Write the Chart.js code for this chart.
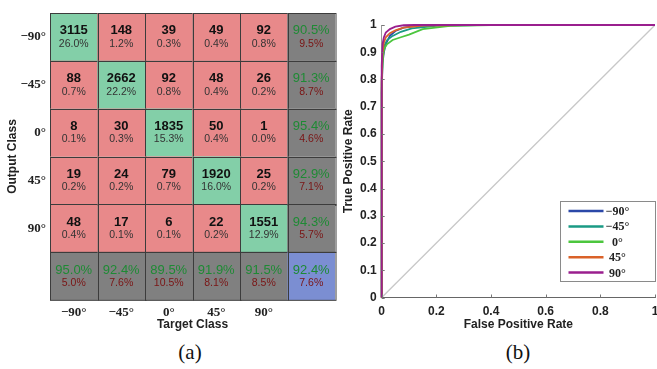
<!DOCTYPE html>
<html>
<head>
<meta charset="utf-8">
<script src="https://cdn.jsdelivr.net/npm/chart.js@4.4.0/dist/chart.umd.min.js"></script>
<style>
    body { margin: 0; background: #fff; width: 657px; height: 369px; position: relative; overflow: hidden; }
    #cmBox { position: absolute; left: 0; top: 0; width: 340px; height: 340px; }
    #rocBox { position: absolute; left: 340px; top: 0; width: 317px; height: 340px; }
    .cap { position: absolute; top: 340px; width: 60px; text-align: center; font-family: "Liberation Serif", serif; font-size: 21px; color: #111; }
</style>
</head>
<body>
<div id="cmBox"><canvas id="cmChart" width="340" height="340"></canvas></div>
<div id="rocBox"><canvas id="rocChart" width="317" height="340"></canvas></div>
<div class="cap" style="left:160px">(a)</div>
<div class="cap" style="left:488px">(b)</div>
<script>
// Confusion matrix data (rows = output class, cols = target class)
const classLabels = ['−90°', '−45°', '0°', '45°', '90°'];
const counts = [
    [3115, 148, 39, 49, 92],
    [88, 2662, 92, 48, 26],
    [8, 30, 1835, 50, 1],
    [19, 24, 79, 1920, 25],
    [48, 17, 6, 22, 1551]
];
const cellPct = [
    ['26.0%', '1.2%', '0.3%', '0.4%', '0.8%'],
    ['0.7%', '22.2%', '0.8%', '0.4%', '0.2%'],
    ['0.1%', '0.3%', '15.3%', '0.4%', '0.0%'],
    ['0.2%', '0.2%', '0.7%', '16.0%', '0.2%'],
    ['0.4%', '0.1%', '0.1%', '0.2%', '12.9%']
];
const rowCorrect = ['90.5%', '91.3%', '95.4%', '92.9%', '94.3%'];
const rowWrong = ['9.5%', '8.7%', '4.6%', '7.1%', '5.7%'];
const colCorrect = ['95.0%', '92.4%', '89.5%', '91.9%', '91.5%'];
const colWrong = ['5.0%', '7.6%', '10.5%', '8.1%', '8.5%'];
const overallPct = ['92.4%', '7.6%'];

// ROC curves
const rocLabels = ['−90°', '−45°', '0°', '45°', '90°'];
const rocColors = ['#2B48A8', '#1A9A84', '#4CC63E', '#DA6229', '#9A1F8E'];
const fprM90 = [0, 0, 0.003, 0.008, 0.015, 0.03, 0.05, 0.08, 0.12, 0.2, 1];
const tprM90 = [0, 0.75, 0.86, 0.9, 0.93, 0.96, 0.978, 0.99, 0.996, 1, 1];
const fprM45 = [0, 0, 0.004, 0.01, 0.02, 0.04, 0.07, 0.11, 0.2, 0.35, 1];
const tprM45 = [0, 0.8, 0.89, 0.925, 0.945, 0.96, 0.975, 0.988, 0.997, 1, 1];
const fprZero = [0, 0, 0.004, 0.01, 0.02, 0.04, 0.07, 0.1, 0.15, 0.25, 0.4, 1];
const tprZero = [0, 0.78, 0.88, 0.915, 0.93, 0.945, 0.955, 0.965, 0.985, 0.997, 1, 1];
const fprP45 = [0, 0, 0.003, 0.008, 0.015, 0.03, 0.05, 0.08, 0.15, 0.3, 1];
const tprP45 = [0, 0.8, 0.9, 0.935, 0.955, 0.97, 0.98, 0.99, 0.998, 1, 1];
const fprP90 = [0, 0, 0.003, 0.008, 0.015, 0.03, 0.05, 0.08, 0.12, 1];
const tprP90 = [0, 0.85, 0.93, 0.955, 0.972, 0.985, 0.994, 0.999, 1, 1];
const diagX = [0, 1];
const diagY = [0, 1];

const GREEN_CELL = '#83CFA8';
const RED_CELL = '#E8898A';
const GRAY_CELL = '#808080';
const BLUE_CELL = '#7B8ED2';
const GREEN_TEXT = '#1E8A34';
const RED_TEXT = '#7A1414';

function zip(xs, ys) {
    return xs.map((x, i) => ({ x: x, y: ys[i] }));
}

// keep the plot box where it is, no room reserved for edge labels
function noEdgePad(s) {
    s.paddingLeft = 0;
    s.paddingRight = 0;
    s.paddingTop = 0;
    s.paddingBottom = 0;
}

// draws the matrix cells through the chart scales
const matrixPlugin = {
    id: 'matrixCells',
    beforeDatasetsDraw(chart) {
        const ctx = chart.ctx;
        const xs = chart.scales.x;
        const ys = chart.scales.y;
        const n = classLabels.length;
        ctx.save();
        for (let i = 0; i <= n; i++) {
            for (let j = 0; j <= n; j++) {
                const x0 = xs.getPixelForValue(j), x1 = xs.getPixelForValue(j + 1);
                const y0 = ys.getPixelForValue(i), y1 = ys.getPixelForValue(i + 1);
                const cx = (x0 + x1) / 2, cy = (y0 + y1) / 2;
                let fill, top, bottom, summary = false;
                if (i < n && j < n) {
                    fill = i === j ? GREEN_CELL : RED_CELL;
                    top = String(counts[i][j]);
                    bottom = cellPct[i][j];
                } else if (i < n) {
                    fill = GRAY_CELL; top = rowCorrect[i]; bottom = rowWrong[i]; summary = true;
                } else if (j < n) {
                    fill = GRAY_CELL; top = colCorrect[j]; bottom = colWrong[j]; summary = true;
                } else {
                    fill = BLUE_CELL; top = overallPct[0]; bottom = overallPct[1]; summary = true;
                }
                ctx.fillStyle = fill;
                ctx.fillRect(x0, y0, x1 - x0, y1 - y0);
                ctx.strokeStyle = '#3c3c3c';
                ctx.lineWidth = 1;
                ctx.strokeRect(Math.round(x0) + 0.5, Math.round(y0) + 0.5, x1 - x0, y1 - y0);

                ctx.textAlign = 'center';
                ctx.textBaseline = 'middle';
                if (summary) {
                    ctx.font = '13px "Liberation Sans", Arial';
                    ctx.fillStyle = GREEN_TEXT;
                    ctx.fillText(top, cx, cy - 6);
                    ctx.font = '10.5px "Liberation Sans", Arial';
                    ctx.fillStyle = RED_TEXT;
                    ctx.fillText(bottom, cx, cy + 7);
                } else {
                    ctx.font = 'bold 13px "Liberation Sans", Arial';
                    ctx.fillStyle = '#111';
                    ctx.fillText(top, cx, cy - 6);
                    ctx.font = '10.5px "Liberation Sans", Arial';
                    ctx.fillStyle = '#333';
                    ctx.fillText(bottom, cx, cy + 7);
                }
            }
        }
        ctx.restore();
    }
};

// matrix points: one per cell centre
const cellPoints = [];
counts.forEach((row, i) => row.forEach((v, j) => cellPoints.push({ x: j + 0.5, y: i + 0.5, v: v })));

new Chart(document.getElementById('cmChart'), {
    type: 'scatter',
    data: {
        datasets: [{ data: cellPoints, pointRadius: 0, pointHoverRadius: 0 }]
    },
    options: {
        responsive: false,
        animation: false,
        devicePixelRatio: 1,
        layout: { padding: { left: 0, right: 5, top: 13, bottom: 4 } },
        plugins: { legend: { display: false }, tooltip: { enabled: false } },
        scales: {
            x: {
                type: 'linear', min: 0, max: 6,
                grid: { display: false, drawTicks: false },
                border: { display: false },
                afterBuildTicks: s => { s.ticks = classLabels.map((l, k) => ({ value: k + 0.5 })); },
                afterFit: s => { s.height = 36; noEdgePad(s); },
                ticks: {
                    padding: 5,
                    autoSkip: false,
                    maxRotation: 0,
                    color: '#222',
                    font: { family: '"Liberation Serif", serif', size: 13, weight: 'bold' },
                    callback: v => classLabels[Math.floor(v)]
                },
                title: {
                    display: true, text: 'Target Class', color: '#222',
                    padding: { top: 0, bottom: 4 },
                    font: { family: '"Liberation Sans", Arial', size: 12, weight: 'bold' }
                }
            },
            y: {
                type: 'linear', min: 0, max: 6, reverse: true,
                grid: { display: false, drawTicks: false },
                border: { display: false },
                afterBuildTicks: s => { s.ticks = classLabels.map((l, k) => ({ value: k + 0.5 })); },
                afterFit: s => { s.width = 50; noEdgePad(s); },
                ticks: {
                    padding: 4,
                    autoSkip: false,
                    color: '#222',
                    font: { family: '"Liberation Serif", serif', size: 13, weight: 'bold' },
                    callback: v => classLabels[Math.floor(v)]
                },
                title: {
                    display: true, text: 'Output Class', color: '#222',
                    padding: { top: 5, bottom: 0 },
                    font: { family: '"Liberation Sans", Arial', size: 12, weight: 'bold' }
                }
            }
        }
    },
    plugins: [matrixPlugin]
});

// ROC legend box + inward tick marks
const rocExtras = {
    id: 'rocExtras',
    afterDraw(chart) {
        const ctx = chart.ctx;
        const area = chart.chartArea;
        const xs = chart.scales.x, ys = chart.scales.y;
        ctx.save();
        // inward ticks
        ctx.strokeStyle = '#777';
        ctx.lineWidth = 1;
        xs.ticks.forEach(t => {
            const px = Math.round(xs.getPixelForValue(t.value)) + 0.5;
            ctx.beginPath(); ctx.moveTo(px, area.bottom); ctx.lineTo(px, area.bottom - 3); ctx.stroke();
        });
        ys.ticks.forEach(t => {
            const py = Math.round(ys.getPixelForValue(t.value)) + 0.5;
            ctx.beginPath(); ctx.moveTo(area.left, py); ctx.lineTo(area.left + 3, py); ctx.stroke();
        });
        // legend
        const items = chart.data.datasets.filter(d => d.label);
        const boxW = 95, boxH = 80;
        const bx = Math.round(area.right - boxW) + 0.5;
        const by = Math.round(area.bottom - 16.5 - boxH) + 0.5;
        ctx.fillStyle = '#fff';
        ctx.fillRect(bx, by, boxW, boxH);
        ctx.strokeStyle = '#8a8a8a';
        ctx.strokeRect(bx, by, boxW, boxH);
        ctx.font = 'bold 12px "Liberation Serif", serif';
        ctx.textAlign = 'center';
        ctx.textBaseline = 'middle';
        items.forEach((d, k) => {
            const y = by + 9.5 + k * 15.4;
            ctx.strokeStyle = d.borderColor;
            ctx.lineWidth = 2.5;
            ctx.beginPath(); ctx.moveTo(bx + 8, y); ctx.lineTo(bx + 43, y); ctx.stroke();
            ctx.fillStyle = '#222';
            ctx.fillText(d.label, bx + 57, y + 1);
        });
        ctx.restore();
    }
};

const rocSeries = [
    [fprM90, tprM90], [fprM45, tprM45], [fprZero, tprZero], [fprP45, tprP45], [fprP90, tprP90]
];

const rocDatasets = rocSeries.map((s, k) => ({
    label: rocLabels[k],
    data: zip(s[0], s[1]),
    borderColor: rocColors[k],
    borderWidth: 1.8,
    showLine: true,
    pointRadius: 0,
    tension: 0,
    clip: 4,
    order: 5 - k
}));
rocDatasets.push({
    label: '',
    data: zip(diagX, diagY),
    borderColor: '#c8c8c8',
    borderWidth: 1.3,
    showLine: true,
    pointRadius: 0,
    order: 10
});

new Chart(document.getElementById('rocChart'), {
    type: 'scatter',
    data: { datasets: rocDatasets },
    options: {
        responsive: false,
        animation: false,
        devicePixelRatio: 1,
        layout: { padding: { left: 0, right: 2, top: 25, bottom: 4.5 } },
        plugins: { legend: { display: false }, tooltip: { enabled: false } },
        scales: {
            x: {
                type: 'linear', min: 0, max: 1,
                grid: { display: false, drawTicks: false },
                border: { display: true, color: '#666', width: 1 },
                afterFit: s => { s.height = 38; noEdgePad(s); },
                ticks: {
                    stepSize: 0.2, padding: 7, maxRotation: 0,
                    color: '#222',
                    font: { family: '"Liberation Sans", Arial', size: 12, weight: 'bold' },
                    callback: v => String(Math.round(v * 10) / 10)
                },
                title: {
                    display: true, text: 'False Positive Rate', color: '#222',
                    padding: { top: 0, bottom: 4 },
                    font: { family: '"Liberation Sans", Arial', size: 12, weight: 'bold' }
                }
            },
            y: {
                type: 'linear', min: 0, max: 1,
                grid: { display: false, drawTicks: false },
                border: { display: true, color: '#999', width: 1 },
                afterFit: s => { s.width = 41.7; noEdgePad(s); },
                ticks: {
                    stepSize: 0.1, padding: 5,
                    color: '#222',
                    font: { family: '"Liberation Sans", Arial', size: 12, weight: 'bold' },
                    callback: v => String(Math.round(v * 10) / 10)
                },
                title: {
                    display: true, text: 'True Positive Rate', color: '#222',
                    padding: { top: 1, bottom: 0 },
                    font: { family: '"Liberation Sans", Arial', size: 12, weight: 'bold' }
                }
            }
        }
    },
    plugins: [rocExtras]
});
</script>
</body>
</html>
